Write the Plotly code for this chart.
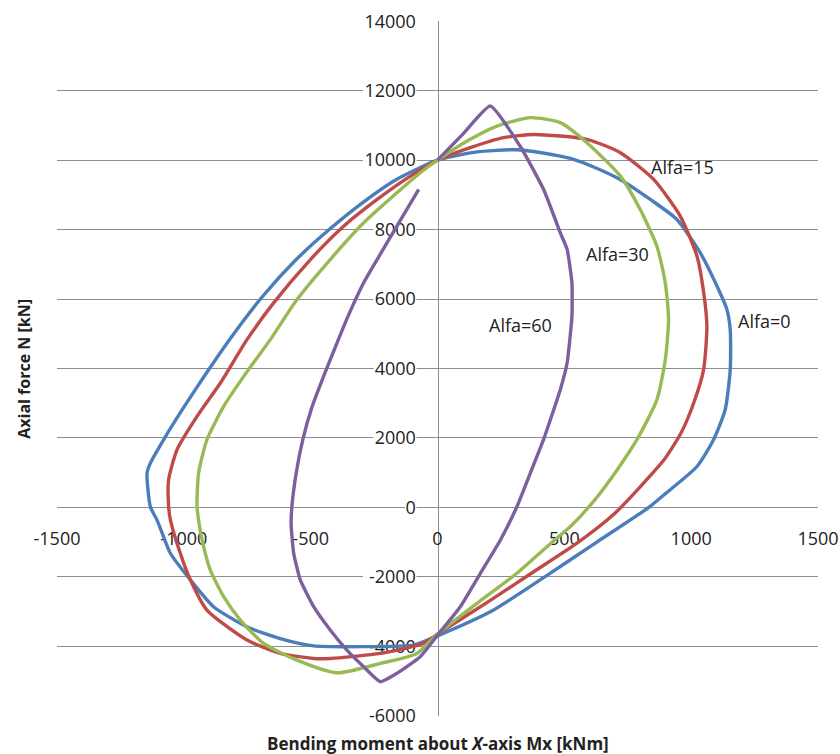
import plotly.graph_objects as go

# Interaction curves: bending moment Mx [kNm] vs axial force N [kN]
alfa0_m = [0, 150, 313, 484, 524, 620, 720, 839, 944, 1036, 1102, 1141, 1154, 1154, 1134, 1088, 1023, 901, 833, 628,
           423, 210, 0, -94, -291, -488, -620, -751, -883, -974, -1053, -1080, -1106, -1132, -1145, -1132, -1080,
           -998, -911, -820, -689, -557, -427, -296, -162, 0]
alfa0_n = [10000, 10230, 10300, 10117, 10050, 9790, 9445, 8868, 8292, 7330, 6368, 5696, 5119, 3966, 2812, 1947, 1177,
           410, 0, -1000, -2000, -3000, -3700, -3965, -4010, -3990, -3780, -3440, -2860, -2090, -1320, -842, -360, 20,
           986, 1275, 1947, 2907, 3870, 4830, 6080, 7138, 8003, 8773, 9445, 10000]

alfa15_m = [0, 129, 261, 379, 589, 721, 852, 957, 1023, 1049, 1062, 1049, 1010, 960, 893, 800, 695, 550, 370, 190, 0,
            -55, -225, -423, -488, -620, -751, -909, -974, -1014, -1053, -1060, -1060, -1027, -948, -856, -751, -646,
            -501, -370, -238, -107, 0]
alfa15_n = [10000, 10360, 10648, 10740, 10600, 10215, 9445, 8387, 7233, 6200, 5214, 3966, 3005, 2140, 1370, 600, -200,
            -1032, -1898, -2763, -3650, -3916, -4205, -4350, -4350, -4205, -3821, -2956, -2091, -1321, -360, 23, 793,
            1658, 2619, 3582, 4831, 5889, 7138, 8098, 8868, 9540, 10000]

alfa30_m = [0, 129, 235, 366, 484, 589, 721, 799, 865, 898, 911, 898, 865, 790, 710, 620, 524, 462, 313, 156, 0,
            -81, -225, -396, -554, -686, -777, -843, -896, -928, -942, -948, -942, -909, -843, -764, -659, -554, -423,
            -291, -160, -68, 0]
alfa30_n = [10000, 10600, 10983, 11224, 11080, 10504, 9540, 8580, 7522, 6466, 5407, 4254, 3100, 2000, 1100, 216, -553,
            -937, -1898, -2763, -3650, -4205, -4493, -4764, -4398, -3916, -3244, -2572, -1802, -937, -360, 23, 986, 1947,
            2907, 3773, 4831, 5985, 7138, 8196, 9060, 9638, 10000]

alfa60_m = [-74, -160, -291, -353, -407, -444, -494, -531, -557, -574, -577, -567, -541, -488, -423, -357, -291, -225,
            -160, -68, 0, 90, 169, 248, 313, 366, 418, 484, 511, 530, 530, 511, 484, 418, 326, 208, 100, 0]
alfa60_n = [9160, 8100, 6470, 5500, 4540, 3870, 2910, 1950, 990, 20, -500, -1320, -2090, -2860, -3530, -4110, -4590, -5020,
            -4780, -4300, -3680, -2860, -1900, -940, 20, 990, 1950, 3390, 4160, 5500, 6470, 7430, 7910, 9160, 10400,
            11560, 10750, 10000]

# name, M values, N values, colour, label position (M, N), spline smoothing
series = [
    ("Alfa=0", alfa0_m, alfa0_n, "#4A7EBB", 1288, 5359, 0.6),
    ("Alfa=15", alfa15_m, alfa15_n, "#BE4B48", 967, 9791, 0.6),
    ("Alfa=30", alfa30_m, alfa30_n, "#98B954", 710, 7311, 0.6),
    ("Alfa=60", alfa60_m, alfa60_n, "#7D5FA0", 326, 5263, 0.45),
]

x_ticks = [-1500, -1000, -500, 0, 500, 1000, 1500]
y_ticks = [-6000, -4000, -2000, 0, 2000, 4000, 6000, 8000, 10000, 12000, 14000]

FONT = "Open Sans"
TEXT = "#222222"
GRID = "#8c8c8c"

fig = go.Figure()
for name, m, n, color, lx, ly, smooth in series:
    fig.add_trace(go.Scatter(
        x=m, y=n, mode="lines", name=name,
        line=dict(color=color, width=3.4, shape="spline", smoothing=smooth),
        showlegend=False, hoverinfo="skip",
    ))
    fig.add_annotation(x=lx, y=ly, xref="x", yref="y", text=name, showarrow=False,
                       font=dict(family=FONT, size=18, color=TEXT))

# white patches behind the y tick labels so the gridlines stop at the text
for v in y_ticks:
    w = 10.5 * len(str(v))
    fig.add_shape(type="rect", xref="x", yref="y", xsizemode="pixel", ysizemode="pixel",
                  xanchor=0, yanchor=v, x0=-(22 + w), x1=-21, y0=-9, y1=9,
                  fillcolor="white", line=dict(width=0), layer="between")

fig.update_layout(
    width=840, height=754,
    margin=dict(l=57, r=22, t=21, b=38),
    paper_bgcolor="white", plot_bgcolor="white",
    font=dict(family=FONT, size=18, color=TEXT),
    xaxis=dict(range=[-1500, 1500], tickvals=x_ticks, ticktext=[str(v) for v in x_ticks],
               anchor="free", position=0.3, showgrid=False, zeroline=False, showline=False,
               ticks="", ticklabelstandoff=18, layer="below traces", automargin=False,
               tickfont=dict(family=FONT, size=18, color=TEXT)),
    yaxis=dict(range=[-6008, 14008], tickvals=y_ticks, ticktext=[str(v) for v in y_ticks],
               anchor="free", position=0.5, showgrid=True, gridcolor=GRID, gridwidth=1,
               zeroline=False, showline=True, linecolor=GRID, linewidth=1,
               ticks="", ticklabelstandoff=18, layer="below traces", automargin=False,
               tickfont=dict(family=FONT, size=18, color=TEXT)),
    annotations=list(fig.layout.annotations) + [
        dict(text="Bending moment about <i>X</i>-axis Mx [kNm]", xref="paper", yref="paper",
             x=0.5, y=-0.0393, xanchor="center", yanchor="middle", showarrow=False,
             font=dict(family=FONT, size=17, color=TEXT, weight="bold")),
        dict(text="Axial force N [kN]", xref="paper", yref="paper", textangle=-90,
             x=-0.0443, y=0.5, xanchor="center", yanchor="middle", showarrow=False,
             font=dict(family=FONT, size=16, color=TEXT, weight="bold")),
    ],
)

fig.write_html("out.html")
